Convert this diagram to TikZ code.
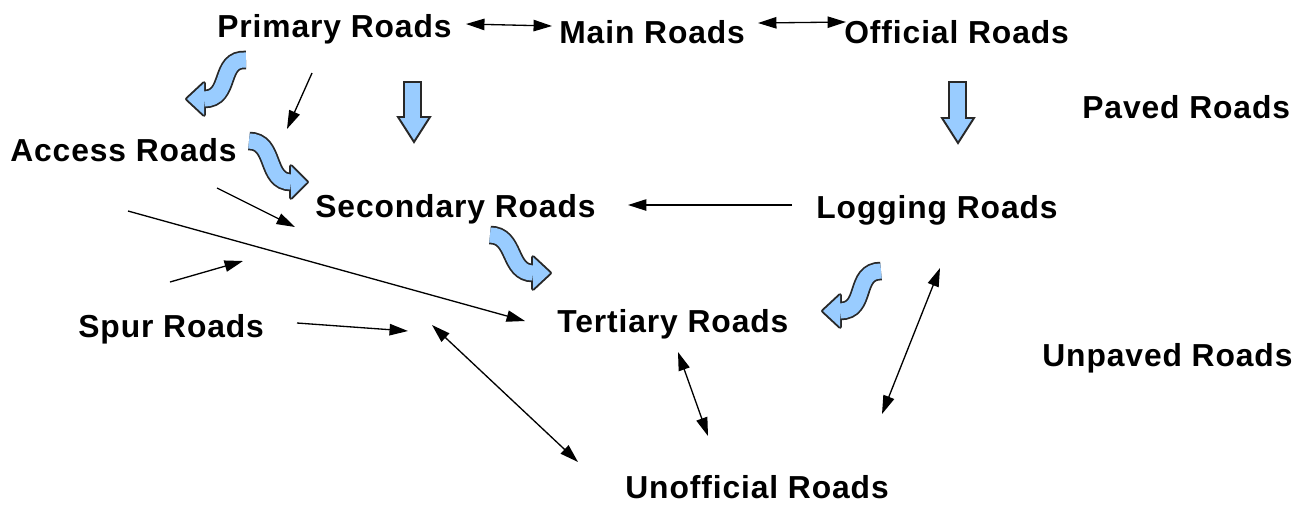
\documentclass[tikz,border=0pt]{standalone}
\usepackage{fontspec}
\setmainfont{Liberation Sans}[LetterSpace=2.8]
\usetikzlibrary{arrows.meta,calc}
\definecolor{blockblue}{RGB}{153,204,255}
\definecolor{blockline}{RGB}{40,40,40}
\newcommand\wavyarrow[5]{%
  \draw[line width=10.6pt, blockline] #1 .. controls #2 and #3 .. #4;
  \draw[line width=2.2pt, blockline, fill=blockline, line join=round]
    ($#4!9pt!90:#5$) -- #5 -- ($#4!9pt!-90:#5$) -- cycle;
  \draw[line width=8.6pt, blockblue] #1 .. controls #2 and #3 .. #4;
  \fill[blockblue] ($#4!9pt!90:#5$) -- #5 -- ($#4!9pt!-90:#5$) -- cycle;
}
\begin{document}
\begin{tikzpicture}[x=0.02cm,y=-0.02cm,
  lbl/.style={anchor=base west, inner sep=0pt, font=\bfseries\fontsize{18.1pt}{20pt}\selectfont},
  conn/.style={line width=0.75pt, -{Triangle[length=10.5pt,width=6.5pt]}},
  bconn/.style={line width=0.75pt, {Triangle[length=10.5pt,width=6.5pt]}-{Triangle[length=10.5pt,width=6.5pt]}},
  downarrow/.style={draw=blockline, fill=blockblue, line width=1.1pt, line join=miter}]
\useasboundingbox (0,0) rectangle (1307,505);
% labels
\node[lbl] (prim)  at (217,37)  {Primary Roads};
\node[lbl] (main)  at (559,43)  {Main Roads};
\node[lbl] (off)   at (844,43)  {Official Roads};
\node[lbl] (paved) at (1082,118) {Paved Roads};
\node[lbl] (acc)   at (10,161)  {Access Roads};
\node[lbl] (sec)   at (315,217) {Secondary Roads};
\node[lbl] (log)   at (816,218) {Logging Roads};
\node[lbl] (spur)  at (78,337)  {Spur Roads};
\node[lbl] (ter)   at (557,332) {Tertiary Roads};
\node[lbl] (unp)   at (1042,366) {Unpaved Roads};
\node[lbl] (unof)  at (625,498) {Unofficial Roads};
% connector end points
\coordinate (pm1) at (466,24);  \coordinate (pm2) at (552,26);
\coordinate (mo1) at (758,23);  \coordinate (mo2) at (846,22);
\coordinate (pa1) at (312,73);  \coordinate (pa2) at (287,129);
\coordinate (as1) at (217,188); \coordinate (as2) at (295,227);
\coordinate (lt1) at (128,211); \coordinate (lt2) at (525,321);
\coordinate (sm1) at (170,282); \coordinate (sm2) at (243,261);
\coordinate (sp1) at (297,323); \coordinate (sp2) at (408,331);
\coordinate (du1) at (432,325); \coordinate (du2) at (578,462);
\coordinate (ls1) at (792,205); \coordinate (ls2) at (628,205);
\coordinate (tu1) at (678,352); \coordinate (tu2) at (708,436);
\coordinate (lu1) at (940,268); \coordinate (lu2) at (882,414);
% thin connectors
\draw[bconn] (pm1) -- (pm2);
\draw[bconn] (mo1) -- (mo2);
\draw[conn] (pa1) -- (pa2);
\draw[conn] (as1) -- (as2);
\draw[conn] (lt1) -- (lt2);
\draw[conn] (sm1) -- (sm2);
\draw[conn] (sp1) -- (sp2);
\draw[bconn] (du1) -- (du2);
\draw[conn] (ls1) -- (ls2);
\draw[bconn] (tu1) -- (tu2);
\draw[bconn] (lu1) -- (lu2);
% straight block arrows
\draw[downarrow] (404,82) -- (421,82) -- (421,117) -- (430,117) -- (414,142) -- (398,117) -- (404,117) -- cycle;
\draw[downarrow] (949,82) -- (966,82) -- (966,118) -- (974,118) -- (958,143) -- (942,118) -- (949,118) -- cycle;
% wavy block arrows
\wavyarrow{(246,60)}{(218,58)}{(232,99)}{(204,99)}{(187,99)}
\wavyarrow{(249,141)}{(276,141)}{(265,182)}{(291,182)}{(307,182)}
\wavyarrow{(490,235)}{(516,235)}{(508,273)}{(533,273)}{(550,273)}
\wavyarrow{(881,271)}{(853,271)}{(868,311)}{(840,311)}{(823,311)}
\end{tikzpicture}
\end{document}
